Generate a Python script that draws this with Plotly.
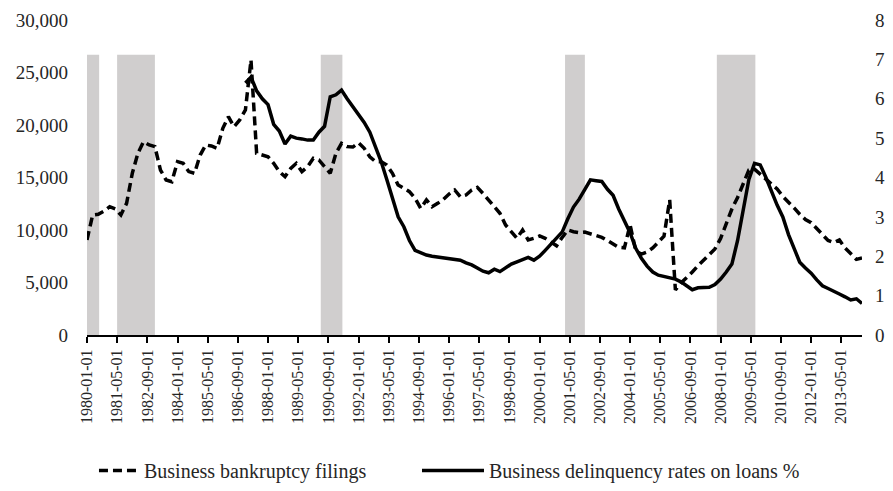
import plotly.graph_objects as go
import pandas as pd

# ---------------- data ----------------
bankruptcy_start = "1980-01-01"
bankruptcy_filings = [
    9050, 11430, 11500, 11800, 12220, 12000, 11430, 12540, 15400, 17300,
    18410, 18100, 17940, 15710, 14760, 14600, 16510, 16350, 15560, 15400,
    17140, 18100, 18000, 17780, 19680, 20790, 19840, 20480, 21430, 26190,
    17300, 17140, 16980, 16350, 15560, 15080, 15870, 16350, 15560, 16030,
    16830, 16670, 16030, 15400, 17300, 18250, 17940, 17900, 18300, 17780,
    16980, 16510, 16500, 16190, 15400, 14290, 13970, 13650, 13020, 12060,
    12860, 12220, 12540, 12920, 13430, 13810, 13170, 13330, 13810, 14060,
    13490, 12860, 12220, 11590, 10480, 9840, 9210, 10000, 9050, 9210,
    9430, 9210, 8890, 8500, 9300, 10000, 9840, 9750, 9800, 9650,
    9500, 9300, 9000, 8700, 8350, 8300, 10500, 8000, 7700, 7900,
    8300, 8850, 9400, 12860, 4300, 4950, 5450, 6000, 6600, 7100,
    7600, 8200, 9200, 10600, 12000, 13100, 14400, 15700, 15800, 15300,
    14800, 14300, 13900, 13200, 12700, 12100, 11500, 11000, 10700, 10100,
    9600, 9000, 8800, 9050, 8300, 7800, 7200, 7330,
]

delinquency_start = "1987-01-01"
delinquency_rate = [
    6.40, 6.55, 6.20, 6.00, 5.85, 5.35, 5.18, 4.85, 5.05, 5.00,
    4.98, 4.95, 4.95, 5.15, 5.30, 6.05, 6.10, 6.22, 6.00, 5.80,
    5.60, 5.40, 5.15, 4.80, 4.40, 3.95, 3.50, 3.00, 2.75, 2.40,
    2.15, 2.08, 2.03, 2.00, 1.98, 1.95, 1.94, 1.93, 1.90, 1.83,
    1.78, 1.70, 1.62, 1.58, 1.67, 1.61, 1.70, 1.80, 1.86, 1.92,
    1.97, 1.90, 2.00, 2.15, 2.30, 2.48, 2.62, 2.95, 3.25, 3.45,
    3.70, 3.94, 3.92, 3.90, 3.70, 3.55, 3.20, 2.90, 2.60, 2.20,
    1.95, 1.75, 1.60, 1.52, 1.48, 1.45, 1.42, 1.35, 1.25, 1.15,
    1.20, 1.20, 1.21, 1.28, 1.42, 1.60, 1.80, 2.40, 3.25, 3.95,
    4.36, 4.32, 4.00, 3.65, 3.30, 3.00, 2.55, 2.20, 1.85, 1.70,
    1.57, 1.40, 1.25, 1.18, 1.10, 1.04, 0.97, 0.89, 0.92, 0.80,
]

recession_starts = ["1980-01-01", "1981-05-01", "1990-05-01", "2001-02-15", "2007-11-01"]
recession_ends = ["1980-07-15", "1983-01-01", "1991-04-15", "2002-01-01", "2009-07-15"]
recession_top = 26700

tick_labels = [
    "1980-01-01", "1981-05-01", "1982-09-01", "1984-01-01", "1985-05-01",
    "1986-09-01", "1988-01-01", "1989-05-01", "1990-09-01", "1992-01-01",
    "1993-05-01", "1994-09-01", "1996-01-01", "1997-05-01", "1998-09-01",
    "2000-01-01", "2001-05-01", "2002-09-01", "2004-01-01", "2005-05-01",
    "2006-09-01", "2008-01-01", "2009-05-01", "2010-09-01", "2012-01-01",
    "2013-05-01",
]

x_range = ["1980-01-01", "2014-04-01"]

# ---------------- figure ----------------
bk_dates = pd.date_range(bankruptcy_start, periods=len(bankruptcy_filings), freq="QS")
dl_dates = pd.date_range(delinquency_start, periods=len(delinquency_rate), freq="QS")

FONT = "Liberation Serif"
TXT = "#262626"

fig = go.Figure()

fig.add_trace(go.Scatter(
    x=bk_dates, y=bankruptcy_filings, mode="lines",
    name="Business bankruptcy filings",
    line=dict(color="black", width=3.5, dash="9px,5px"),
    yaxis="y", legend="legend",
))
fig.add_trace(go.Scatter(
    x=dl_dates, y=delinquency_rate, mode="lines",
    name="Business delinquency rates on loans %",
    line=dict(color="black", width=3.5),
    yaxis="y2", legend="legend2",
))

for s, e in zip(recession_starts, recession_ends):
    fig.add_shape(type="rect", xref="x", yref="y", x0=s, x1=e, y0=0, y1=recession_top,
                  fillcolor="#d0cece", line=dict(width=0), layer="below")

legend_common = dict(orientation="h", xanchor="left", y=-0.43, yanchor="middle",
                     font=dict(size=20, family=FONT, color=TXT),
                     bgcolor="rgba(0,0,0,0)")

fig.update_layout(
    width=885, height=483,
    margin=dict(l=79, r=31, t=12, b=156, autoexpand=False),
    paper_bgcolor="white", plot_bgcolor="white",
    font=dict(family=FONT, color=TXT),
    showlegend=True,
    legend=dict(x=0.009, itemwidth=40, **legend_common),
    legend2=dict(x=0.4258, itemwidth=62, **legend_common),
    xaxis=dict(
        type="date", range=x_range, automargin=False,
        tickmode="array", tickvals=tick_labels, ticktext=tick_labels,
        tickangle=-90, tickfont=dict(size=16, family=FONT, color=TXT),
        showgrid=False, zeroline=False,
        showline=True, linecolor="black", linewidth=2,
        ticks="outside", ticklen=6, tickwidth=1.5, tickcolor="black",
    ),
    yaxis=dict(
        range=[0, 30000], dtick=5000, tickformat=",", automargin=False,
        tickfont=dict(size=19, family=FONT, color=TXT),
        showgrid=False, zeroline=False, showline=False,
        ticklabelstandoff=18,
    ),
    yaxis2=dict(
        range=[0, 8], dtick=1, overlaying="y", side="right", automargin=False,
        tickfont=dict(size=19, family=FONT, color=TXT),
        showgrid=False, zeroline=False, showline=False,
        ticklabelstandoff=12,
    ),
)

fig.write_html("out.html")
